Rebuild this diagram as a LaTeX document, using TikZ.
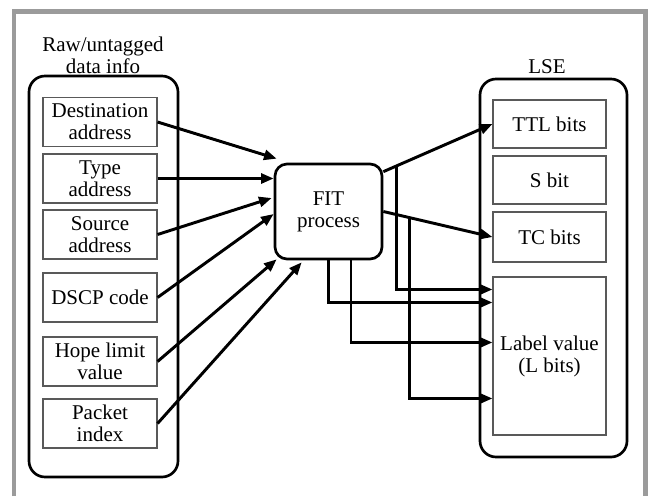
\documentclass[tikz,border=0pt]{standalone}
\usepackage{fontspec}
\setmainfont{Liberation Serif}
\usetikzlibrary{arrows.meta,calc}
\definecolor{framegray}{HTML}{9B9B9B}
\begin{document}
\begin{tikzpicture}[x=0.75pt,y=-0.75pt,
  every node/.style={font=\fontsize{15.75}{16.5}\selectfont},
  container/.style={draw=black,line width=2pt,rounded corners=12pt},
  inbox/.style={draw=black!65,line width=0.8pt,minimum width=85.5pt,minimum height=36.75pt,inner sep=0pt,align=center},
  outbox/.style={draw=black!65,line width=0.8pt,minimum width=84.75pt,inner sep=0pt,align=center},
  fitbox/.style={draw=black,line width=2pt,rounded corners=9pt,minimum width=80.25pt,minimum height=71.25pt,inner sep=0pt,align=center},
  conn/.style={line width=2.2pt,-{Triangle[length=9.5pt,width=7.5pt]}},
  title/.style={inner sep=0pt,align=center}
]
\useasboundingbox (0,0) rectangle (648,496);
\fill[white] (0,0) rectangle (648,496);
% gray frame
\draw[framegray,line width=3.4pt] (14,496) -- (14,11.5) -- (645.5,11.5) -- (645.5,496);
% containers
\draw[container] (29,76) rectangle (178,477);
\draw[container] (480,79) rectangle (627,457);
% titles
\node[title] (rawtitle) at (103,55) {Raw/untagged\\data info};
\node[title] (lsetitle) at (547,67) {LSE};
% left boxes
\node[inbox] (dest) at (100,122) {Destination\\address};
\node[inbox] (type) at (100,178.5) {Type\\address};
\node[inbox] (src) at (100,234.5) {Source\\address};
\node[inbox] (dscp) at (100,297.5) {DSCP code};
\node[inbox] (hope) at (100,361.5) {Hope limit\\value};
\node[inbox] (packet) at (100,423.5) {Packet\\index};
% FIT
\node[fitbox] (fit) at (328.5,211.5) {FIT\\process};
% right boxes
\node[outbox,minimum height=36pt] (ttl) at (549.5,124) {TTL bits};
\node[outbox,minimum height=36pt] (sbit) at (549.5,180) {S bit};
\node[outbox,minimum height=37.5pt] (tc) at (549.5,237) {TC bits};
\node[outbox,minimum height=118.5pt] (label) at (549.5,356) {Label value\\(L bits)};
% inputs
\draw[conn] (dest.east) -- ($(fit.north west)+(3,-4)$);
\draw[conn] (type.east) -- (fit.west |- type.east);
\draw[conn] (src.east) -- ($(fit.west)+(-2,-13.5)$);
\draw[conn] (dscp.east) -- ($(fit.west)+(0,2.5)$);
\draw[conn] (hope.east) -- ($(fit.south west)+(3,-1)$);
\draw[conn] (packet.east) -- ($(fit.south west)+(28,2)$);
% outputs
\coordinate (ttlstart) at ($(fit.north east)+(0,9)$);
\draw[conn] (ttlstart) -- (ttl.west);
\draw[conn] (fit.east) -- (tc.west);
\coordinate (b1) at ($(ttlstart)!0.117!(ttl.west)$);
\coordinate (b2) at ($(fit.east)!0.243!(tc.west)$);
\draw[conn,rounded corners=0pt] (b1) -- ($(b1|-label.north)+(0,13)$) -- ($(label.north west)+(0,13)$);
\draw[conn] (b2) -- (b2|-{$(label.north)+(0,122)$}) -- ($(label.north west)+(0,122)$);
\draw[conn] (fit.south) -- ($(fit.south|-label.north)+(0,26)$) -- ($(label.north west)+(0,26)$);
\draw[conn] ($(fit.south)+(22.5,0)$) -- ($(fit.south|-label.north)+(22.5,66)$) -- ($(label.north west)+(0,66)$);
\end{tikzpicture}
\end{document}
